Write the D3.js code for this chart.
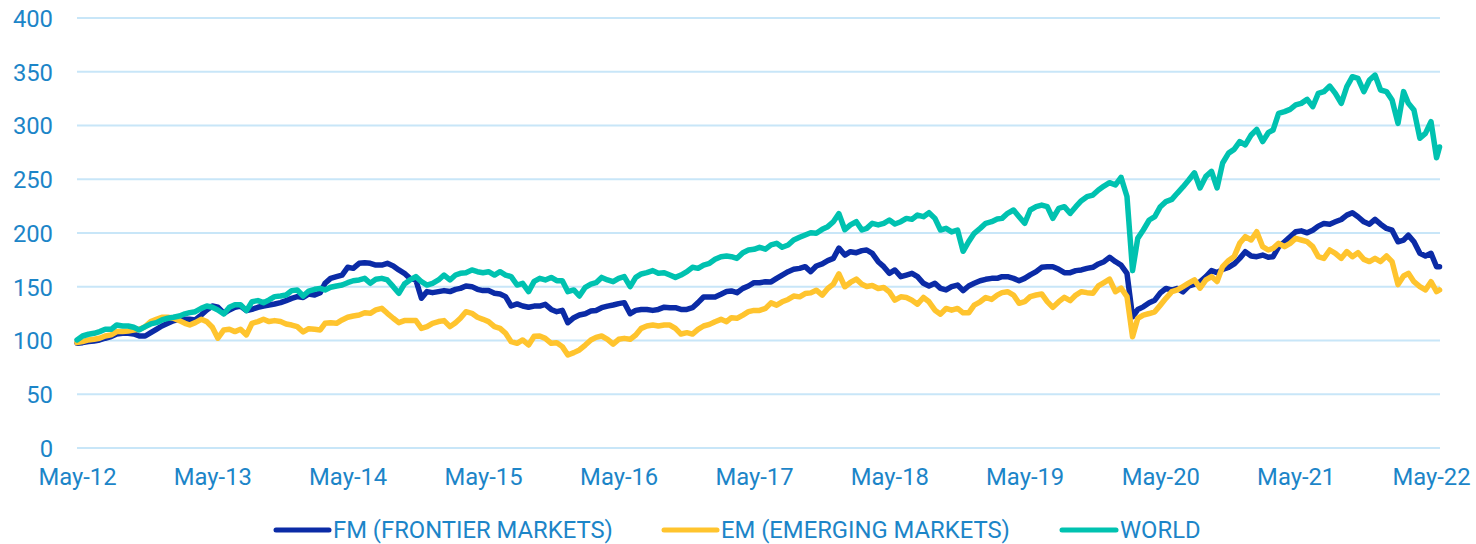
<!DOCTYPE html>
<html>
<head>
<meta charset="utf-8">
<script src="https://cdn.jsdelivr.net/npm/d3@7"></script>
<style>
  html, body { margin: 0; padding: 0; background: #ffffff; }
  svg { display: block; font-family: Roboto, "Noto Sans", sans-serif; }
</style>
</head>
<body>
<svg id="chart" width="1476" height="544"></svg>
<script>
// ---- Data (semi-monthly readings from May-12, last point late May-22) ----
const tickLabels = ["May-12","May-13","May-14","May-15","May-16","May-17","May-18","May-19","May-20","May-21","May-22"];
const yTicks = [0, 50, 100, 150, 200, 250, 300, 350, 400];
const seriesNames = ["FM (FRONTIER MARKETS)", "EM (EMERGING MARKETS)", "WORLD"];

const world = [
100.5,104.2,105.8,106.7,108.3,110.4,110.4,114.4,113.5,113.5,
112.3,109.8,112.9,115.4,116.6,119.1,120.7,121.6,122.8,124.7,
125.9,126.8,129.9,132.1,130.9,128.4,124.7,130.9,133.3,133.3,
127.8,136.1,137.1,135.2,137.7,140.8,141.4,142.3,146.4,147.0,
141.4,146,147.6,148.5,147.0,149.5,150.7,151.6,153.8,155.6,
156.3,157.8,153.2,156.9,157.8,156.3,150.1,143.9,152.5,156.3,
159.4,154.7,151.6,153.2,156.3,160.9,156.3,160.9,162.5,163.1,
165.6,164.0,163.1,164.0,160.9,164.0,160.9,159.4,151.6,153.2,
145.5,155,157.8,156.3,158.7,155.6,155.6,145.4,147.0,141.4,
149.5,152.5,153.8,158.7,156.3,154.7,157.8,159.4,150.1,158.7,
161.9,163.1,165.0,162.5,163.1,160.9,158.7,160.9,164.0,168.1,
167.1,170.2,171.8,175.5,178.0,178.6,178.0,176.4,181.7,184.2,
184.8,186.7,185,189,190.4,186.7,188.8,193.5,196.0,198.2,
200.3,199.7,203.4,205.9,210.5,218,203,207.5,210.5,202.8,
204.3,209.0,207.5,209.0,212.1,208.4,210.5,213.6,212.7,216.7,
215.2,218.9,213.6,202.8,204.3,201.0,202.8,183,192.0,199.7,
204.3,209.0,210.5,213,213.6,218.3,221.4,215.2,209.0,221.4,
224.5,226.0,224.5,213.6,223.0,224.5,218.3,224.5,230.1,233.8,
235.3,240.0,243.7,246.8,244.7,251.8,234,165,195,202.8,
212.1,215.2,224.5,229.2,231.3,237.2,242.8,249.0,256,241.9,
252.7,257.4,241.9,265.1,274.3,277.8,285.0,281.9,291.2,296.4,
285.0,293.3,295.8,311.3,312.9,315.0,319.1,320.6,324.3,317.5,
329.9,331.5,336.7,329.9,320.6,336.1,345.4,343.8,331.5,342.3,
346.9,333.0,331.5,323.7,302.0,331.5,320.6,314.4,288.1,292.7,
303.6,270,280
];

const fm = [
97.4,98.0,99.0,99.6,100.5,102.1,103.6,106.1,106.7,106.7,
106.1,104.2,104.2,107.3,110.4,113.5,116.0,118.4,119.7,119.7,
119.7,119.1,123.7,128.4,132.1,130.9,125.3,128.4,130.9,132.1,
127.8,129.0,130.9,132.1,133.0,134.0,135.2,137.1,139.2,140.8,
140,143.3,142.3,144.5,153.2,157.8,159.4,160.9,168.1,167.1,
171.8,172.4,171.8,170.2,170.2,171.8,169.3,165.6,162.5,157.8,
156.3,139.3,145.5,144.5,145.5,146.4,145.5,147.6,148.5,150.7,
150.1,147.6,146.4,146.4,143.9,143.3,140.8,132.1,134.0,132.1,
130.9,132,132.0,133.6,128.9,126.8,128.0,116.5,121.2,123.7,
124.9,127.4,128.0,130.5,132.0,133.0,134.3,135.2,124.9,128.0,
128.9,128.9,128.0,128.9,131.0,130.5,130.5,128.9,128.9,130.5,
135.2,140.5,140.5,140.5,143.0,145.5,146.1,144.5,148.5,150.7,
153.8,153.8,154.7,154.5,157.8,160.9,164.0,166.2,167.1,168.7,
164.0,169.3,171.2,174.3,176.4,186,179.5,182.6,181.7,183.6,
184.2,181.1,173.3,168.7,162.5,165.6,159.4,160.9,162.5,159.4,
153.2,150.7,153.2,148.5,147.0,150.1,151.6,146.4,150.7,153.2,
155.6,156.9,157.8,157.8,159.4,159.4,157.8,155.6,157.8,161.0,
164.0,168.1,168.7,168.7,166.2,163.1,163.1,165.0,165.6,167.1,
168.1,171.2,173.3,177.4,173.3,170.2,162.5,122,128.8,131.3,
135.1,137.5,144.3,148.4,146.8,148.4,145.3,150.5,152.4,154.5,
159.4,165.0,163.1,166.2,168,171.2,176.4,182.6,178.6,178.0,
179.5,177.4,178.0,187.1,191.8,196.4,201.1,202.0,200.2,202.6,
206.4,208.8,208.2,210.4,212.6,216.6,218.8,215.1,210.4,208.2,
212.6,208.2,204.2,202.6,191.8,193.3,198.0,191.8,181.1,178.6,
181.1,168.6,168.6
];

const em = [
98.0,99.0,100.5,101.1,102.1,104.2,105.2,108.3,108.3,108.9,
109.8,110.4,112.9,117.6,119.7,121.6,121.6,120.7,118.5,116.0,
114.4,116.6,119.7,117.6,112.3,102.1,109.8,110.4,108.3,110.4,
105.2,116.0,117.6,119.7,117.6,118.5,117.6,115.4,114.4,112.9,
108,111,110.4,109.8,116.0,116.6,116.0,119.1,121.6,122.8,
123.7,125.9,125.3,128.4,129.9,125.3,120.7,116.6,118.5,118.5,
118.5,111.3,112.9,116.0,117.6,118.5,112.9,116.6,120.7,126.8,
125.3,121.6,119.7,117.6,112.9,111.3,106.7,98.9,97.4,100.5,
95.8,104,104.2,102.0,97.4,98.0,94.3,86.5,88.7,91.2,
95.8,100.5,102.9,104.2,101.1,96.7,101.1,102.0,101.1,105.1,
111.3,113.5,114.4,113.5,114.4,114.4,111.3,106.0,107.3,106.0,
110.4,113.5,115.0,117.5,119.7,117.5,121.2,120.6,123.7,126.8,
128.0,128.0,129.9,135,132.9,136.0,138.2,141.3,140.6,143.7,
144.3,146.8,142.2,148.4,152.4,162,150,154.0,157.1,152.4,
150.2,151.2,148.4,149.3,145.3,137.5,140.6,140.0,137.5,133.8,
140.0,136.0,128.2,124.5,129.8,128.2,129.8,125.7,125.7,132.9,
136.0,140.0,138.2,142.2,144.5,145.4,142.3,134.6,136.1,140.8,
142.3,143.3,136.1,130.8,136.1,140.2,137.1,142.3,145.4,144.5,
143.9,150.8,153.9,157.0,145.4,148.7,140.8,103.4,120.5,123.6,
125.1,126.7,132.9,139.2,145.4,147.1,150.2,153.3,156.4,148.7,
156.4,159.5,154.9,168.8,174.5,178.0,190.4,196.6,193.5,201.2,
187.3,184.2,185.7,190.4,187.3,190.4,195.0,193.5,191.9,187.3,
178.0,176.4,184.2,181.1,176.4,182.7,178.0,181.7,175.5,173.4,
176.4,173.4,178.6,173.4,152,160,162.5,154.7,150.1,147.0,
154.7,145.4,147.0
];

// semi-monthly dates: 1st and 16th of each month, plus a final late-May-22 reading
const dates = d3.range(242).map(h => new Date(2012, 4 + Math.floor(h / 2), h % 2 ? 16 : 1));
dates.push(new Date(2022, 4, 24));
const tickDates = tickLabels.map((t, i) => new Date(2012 + i, 4, 1));

// ---- Layout & style ----
const textColor = "#1c85c8";
const gridColor = "#c8e6f8";
const colors = ["#0b2ba6", "#ffc42e", "#00c2b0"];
const fontSize = 23.8;

const svg = d3.select("#chart");
const x = d3.scaleTime().domain([tickDates[0], tickDates[tickDates.length - 1]]).range([77, 1431]);
const y = d3.scaleLinear().domain([0, 400]).range([448, 18]);
const gridX0 = 77, gridX1 = 1440;

// gridlines
svg.append("g").selectAll("line").data(yTicks).join("line")
  .attr("x1", gridX0).attr("x2", gridX1)
  .attr("y1", d => y(d)).attr("y2", d => y(d))
  .attr("stroke", gridColor).attr("stroke-width", 2);

// y axis labels
const yAxis = d3.axisLeft(y).tickValues(yTicks).tickSize(0).tickPadding(0);
const gy = svg.append("g").attr("transform", "translate(53,0)").call(yAxis);
gy.select(".domain").remove();
gy.selectAll("text").attr("fill", textColor).style("font-size", fontSize + "px")
  .style("font-family", "Roboto").attr("dy", "0.35em");

// x axis labels
const xAxis = d3.axisBottom(x).tickValues(tickDates).tickFormat((d, i) => tickLabels[i]).tickSize(0).tickPadding(0);
const gx = svg.append("g").attr("transform", "translate(0,468)").call(xAxis);
gx.select(".domain").remove();
gx.selectAll("text").attr("fill", textColor).style("font-size", fontSize + "px")
  .style("font-family", "Roboto").attr("dy", "0.71em");

// lines
const line = d3.line().x((d, i) => x(dates[i])).y(d => y(d));
[fm, em, world].forEach((vals, k) => {
  svg.append("path").datum(vals)
    .attr("d", line)
    .attr("fill", "none")
    .attr("stroke", colors[k])
    .attr("stroke-width", 5.5)
    .attr("stroke-linejoin", "round")
    .attr("stroke-linecap", "round");
});

// legend
const legendItems = [
  { name: seriesNames[0], color: colors[0], x0: 276, x1: 329, tx: 333 },
  { name: seriesNames[1], color: colors[1], x0: 664, x1: 717, tx: 721 },
  { name: seriesNames[2], color: colors[2], x0: 1062, x1: 1116, tx: 1120 }
];
const lg = svg.append("g");
legendItems.forEach(it => {
  lg.append("line").attr("x1", it.x0).attr("x2", it.x1).attr("y1", 530).attr("y2", 530)
    .attr("stroke", it.color).attr("stroke-width", 5).attr("stroke-linecap", "round");
  lg.append("text").attr("x", it.tx).attr("y", 538)
    .attr("fill", textColor).style("font-size", fontSize + "px").style("font-family", "Roboto")
    .text(it.name);
});
</script>
</body>
</html>
